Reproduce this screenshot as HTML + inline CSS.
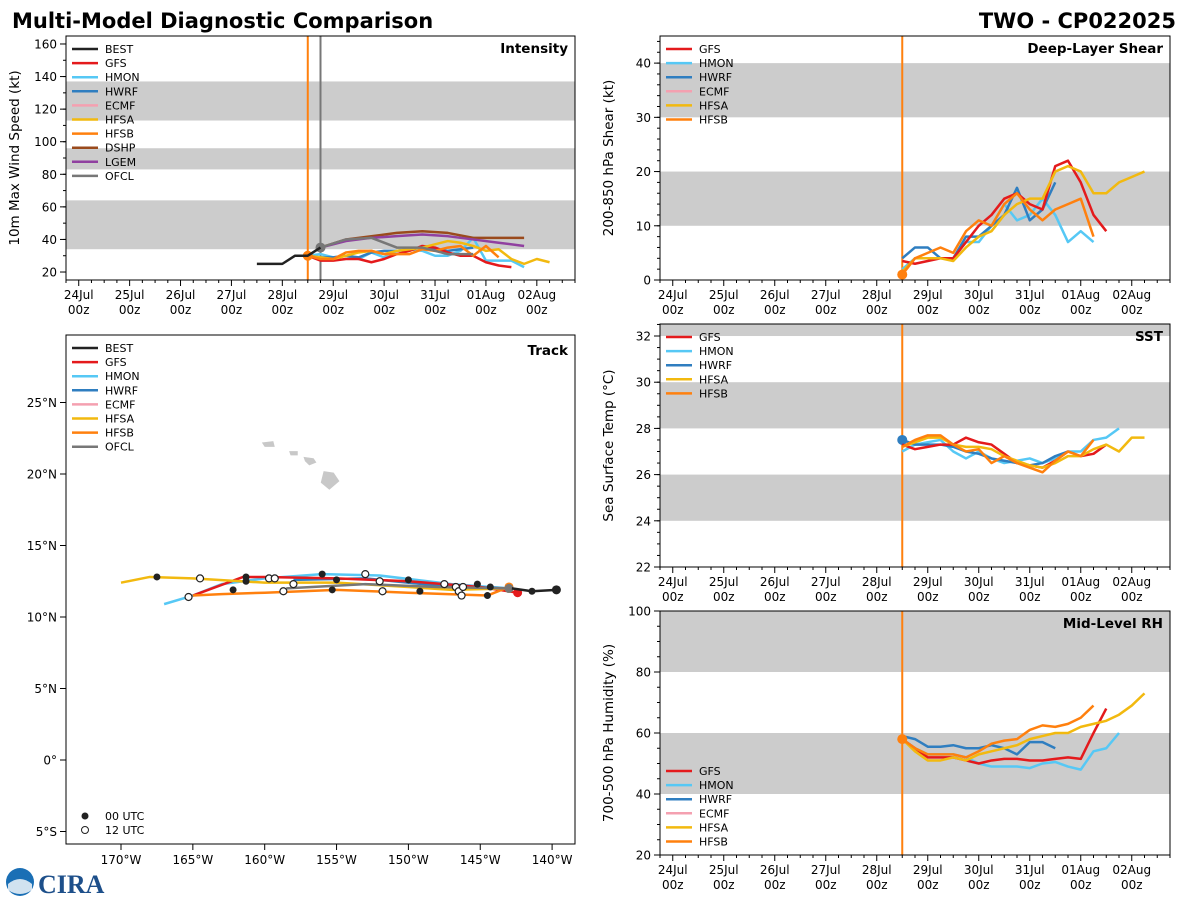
<!DOCTYPE html>
<html><head><meta charset="utf-8"><style>
html,body{margin:0;padding:0;background:#fff;}
svg{display:block;font-family:"DejaVu Sans","Liberation Sans",sans-serif;}
</style></head><body>
<svg id="fig" width="1200" height="900" viewBox="0 0 1200 900" xmlns="http://www.w3.org/2000/svg">
<text x="12" y="28" font-size="21" font-weight="bold">Multi-Model Diagnostic Comparison</text>
<text x="1176" y="28" font-size="21" font-weight="bold" text-anchor="end">TWO - CP022025</text>
<g>
<circle cx="20" cy="882" r="14" fill="#1a6fb5"/>
<path d="M8 884 Q20 874 32 884 L32 890 Q20 898 8 890Z" fill="#fff" opacity="0.8"/>
<text x="38" y="893" font-size="26" font-weight="bold" fill="#1d4f8a" font-family="Liberation Serif, serif">CIRA</text>
</g>
</svg>
<script>
const SVGNS="http://www.w3.org/2000/svg";
const fig=document.getElementById('fig');
function el(tag,attrs,parent){const e=document.createElementNS(SVGNS,tag);for(const k in attrs)e.setAttribute(k,attrs[k]);(parent||fig).appendChild(e);return e;}

const COL={BEST:'#222222',GFS:'#e41a1c',HMON:'#56c8f5',HWRF:'#2f7ec0',ECMF:'#f4a0b0',HFSA:'#f2b90f',HFSB:'#ff800e',DSHP:'#9a4a1c',LGEM:'#9040a0',OFCL:'#777777'};
const dayLabels=['24Jul','25Jul','26Jul','27Jul','28Jul','29Jul','30Jul','31Jul','01Aug','02Aug'];
const T0=108;

// ---- Intensity data (kt), 6-hourly from T0 unless noted
const bestHours=[84,90,96,102,108,114];
const bestVmax=[25,25,25,30,30,35];
const intGFS=[30,27,27,28,28,26,28,31,33,36,35,32,30,30,26,24,23,21].slice(0,17);
const intHMON=[30,31,29,30,28,32,29,33,34,33,30,30,33,41,27,27,27,23];
const intHWRF=[30,29,29,30,29,32,33,33,34,35,34,33,34,35];
const intHFSA=[30,29,28,30,32,33,31,33,34,35,37,39,38,36,33,34,28,25,28,26];
const intHFSB=[30,28,28,32,33,33,31,31,31,34,33,35,36,30,36,29];
// 12-hourly from 114h
const intDSHP=[35,40,42,44,45,44,41,41,41];
const intLGEM=[35,39,41,42,43,42,40,38,36];
const intOFCL=[35,40,41,35,35,31,31];

// ---- Shear (kt)
const shrGFS=[3.5,3,3.5,4,4,7,10,12,15,16,14,13,21,22,18,12,9];
const shrHMON=[2,4,4,4,4,7,7,10,14,11,12,15,12,7,9,7];
const shrHWRF=[4,6,6,4,4,8,8,10,12,17,11,13,18];
const shrHFSA=[1.5,4,4,4,3.5,6,8,9,12,14,15,15,20,21,20,16,16,18,19,20];
const shrHFSB=[1,4,5,6,5,9,11,10,14,16,13,11,13,14,15,8];

// ---- SST (C)
const sstGFS=[27.3,27.1,27.2,27.3,27.3,27.6,27.4,27.3,26.9,26.5,26.4,26.3,26.6,27.0,26.8,26.9,27.3];
const sstHMON=[27.0,27.3,27.4,27.5,27.0,26.7,27.0,26.7,26.5,26.6,26.7,26.5,26.7,27.0,27.0,27.5,27.6,28.0];
const sstHWRF=[27.5,27.3,27.3,27.3,27.2,27.0,26.9,26.7,26.6,26.5,26.4,26.5,26.8,27.0];
const sstHFSA=[27.2,27.4,27.6,27.6,27.3,27.2,27.2,27.1,26.8,26.6,26.4,26.3,26.5,26.8,26.8,27.1,27.3,27.0,27.6,27.6];
const sstHFSB=[27.2,27.5,27.7,27.7,27.3,27.0,27.1,26.5,26.8,26.5,26.3,26.1,26.6,27.0,26.8,27.5];

// ---- Mid-level RH (%)
const rhGFS=[58,55,52,52,52,51,50,51,51.5,51.5,51,51,51.5,52,51.5,60,68];
const rhHMON=[58,55,53,53,53,52,50,49,49,49,48.5,50,50.5,49,48,54,55,60];
const rhHWRF=[59,58,55.5,55.5,56,55,55,56,55,53,57,57,55];
const rhHFSA=[58,54,51,51,52,51,53,54,55,56,58,59,60,60,62,63,64,66,69,73];
const rhHFSB=[58,55,53,53,53,52,54,56.5,57.5,58,61,62.5,62,63,65,69];

// ---- Track (lon, lat)
const trkBEST=[[-139.7,11.9],[-141.4,11.8],[-142.8,12.0]];
const trkGFS=[[-142.4,11.7],[-145,12.1],[-150,12.5],[-155,12.7],[-160,12.8],[-161.5,12.8],[-165,11.5]];
const trkHMON=[[-143,12.0],[-147,12.3],[-152,12.9],[-156,13.0],[-160,12.7],[-163,12.3],[-165,11.5],[-167,10.9]];
const trkHWRF=[[-143,12.0],[-148,12.2],[-153,12.7],[-158,12.6]];
const trkHFSA=[[-143,12.0],[-147,11.9],[-150,12.1],[-155,12.4],[-160,12.4],[-165,12.7],[-168,12.8],[-170,12.4]];
const trkHFSB=[[-143,12.1],[-144.5,11.5],[-150,11.7],[-155,11.9],[-160,11.7],[-163,11.6],[-165,11.5]];
const trkOFCL=[[-143,12.0],[-148,12.1],[-153,12.3],[-158.5,12.0]];
const dots00=[[-167.5,12.8],[-162.2,11.9],[-161.3,12.8],[-161.3,12.5],[-156,13.0],[-155,12.6],[-155.3,11.9],[-150,12.6],[-149.2,11.8],[-145.2,12.3],[-144.5,11.5],[-144.3,12.1],[-141.4,11.8],[-139.7,11.9]];
const dots12=[[-164.5,12.7],[-165.3,11.4],[-159.7,12.7],[-159.3,12.7],[-158.7,11.8],[-158,12.3],[-153,13.0],[-152,12.5],[-151.8,11.8],[-147.5,12.3],[-146.7,12.1],[-146.5,11.8],[-146.3,11.5],[-146.2,12.1]];

function timePanel(name,P,ymin,ymax,bands,yt,ymin_step,ylabel,title,series,legend,extra){
  const g=el('g',{});
  const xs=h=>P.x+(h+6)*P.w/240;
  const ys=v=>P.y+P.h-(v-ymin)*P.h/(ymax-ymin);
  bands.forEach(b=>{const y1=ys(Math.min(b[1],ymax)),y0=ys(b[0]);
    const r=el('rect',{x:P.x,y:y1,width:P.w,height:y0-y1,fill:'#cccccc'},g);
    });
  for(let h=-6;h<=234;h+=6){const x=xs(h);const major=(h%24===0);
    el('line',{x1:x,x2:x,y1:P.y+P.h,y2:P.y+P.h+(major?6:3),stroke:'#000','stroke-width':1},g);}
  dayLabels.forEach((d,i)=>{const x=xs(i*24);
    const t=el('text',{x:x,y:P.y+P.h+19,'font-size':12,'text-anchor':'middle'},g);t.textContent=d;
    
    const t2=el('text',{x:x,y:P.y+P.h+34,'font-size':12,'text-anchor':'middle'},g);t2.textContent='00z';
    });
  for(let v=Math.ceil(ymin/ymin_step)*ymin_step;v<=ymax;v+=ymin_step){const y=ys(v);
    el('line',{x1:P.x-3,x2:P.x,y1:y,y2:y,stroke:'#000'},g);}
  yt.forEach(v=>{const y=ys(v);el('line',{x1:P.x-6,x2:P.x,y1:y,y2:y,stroke:'#000'},g);
    const t=el('text',{x:P.x-9,y:y+4.5,'font-size':12,'text-anchor':'end'},g);t.textContent=v;
    });
  const yl=el('text',{x:0,y:0,'font-size':13.5,'text-anchor':'middle',transform:`translate(${P.x-47},${P.y+P.h/2}) rotate(-90)`},g);
  yl.textContent=ylabel;
  (extra||[]).forEach(e=>{el('line',{x1:xs(e[0]),x2:xs(e[0]),y1:P.y,y2:P.y+P.h,stroke:e[1],'stroke-width':2},g);});
  series.forEach(s=>{const step=s.step||6,start=s.start===undefined?T0:s.start;
    const pts=s.v.map((v,i)=>[xs(s.hours?s.hours[i]:start+i*step),ys(v)]);
    const pl=el('polyline',{points:pts.map(p=>p.join(',')).join(' '),fill:'none',stroke:COL[s.k],'stroke-width':2.5,'stroke-linejoin':'round'},g);
    
    if(s.dot){const c=el('circle',{cx:pts[s.dot-1][0],cy:pts[s.dot-1][1],r:5,fill:COL[s.k]},g);
      }
  });
  el('rect',{x:P.x,y:P.y,width:P.w,height:P.h,fill:'none',stroke:'#000','stroke-width':1},g);
  const tt=el('text',{x:P.x+P.w-7,y:P.y+17,'font-size':13.5,'font-weight':'bold','text-anchor':'end'},g);
  tt.textContent=title;
  drawLegend(g,P.x+6,P.y+13,legend);
}
function drawLegend(g,x,y,keys){
  keys.forEach((k,i)=>{const yy=y+i*14.1;
    el('line',{x1:x,x2:x+26,y1:yy,y2:yy,stroke:COL[k],'stroke-width':2.5},g);
    const t=el('text',{x:x+33,y:yy+4,'font-size':11},g);t.textContent=k;
    });
}

timePanel('intensity',{x:66,y:36,w:509,h:244},15.1,164.9,[[34,64],[83,96],[113,137]],[20,40,60,80,100,120,140,160],10,'10m Max Wind Speed (kt)','Intensity',[
 {k:'HMON',v:intHMON},{k:'HWRF',v:intHWRF},{k:'GFS',v:intGFS},{k:'HFSA',v:intHFSA},{k:'HFSB',v:intHFSB,dot:1},
 {k:'DSHP',v:intDSHP,start:114,step:12},{k:'LGEM',v:intLGEM,start:114,step:12},{k:'OFCL',v:intOFCL,start:114,step:12,dot:1},
 {k:'BEST',v:bestVmax,hours:bestHours}],
 ['BEST','GFS','HMON','HWRF','ECMF','HFSA','HFSB','DSHP','LGEM','OFCL'],[[108,'#ff800e'],[114,'#777777']]);

timePanel('shear',{x:660,y:36,w:510,h:244},0,45,[[10,20],[30,40]],[0,10,20,30,40],2,'200-850 hPa Shear (kt)','Deep-Layer Shear',[
 {k:'HMON',v:shrHMON},{k:'HWRF',v:shrHWRF},{k:'GFS',v:shrGFS},{k:'HFSA',v:shrHFSA},{k:'HFSB',v:shrHFSB,dot:1}],
 ['GFS','HMON','HWRF','ECMF','HFSA','HFSB'],[[108,'#ff800e']]);

timePanel('sst',{x:660,y:324,w:510,h:243},22,32.52,[[24,26],[28,30],[32,33]],[22,24,26,28,30,32],0.5,'Sea Surface Temp (°C)','SST',[
 {k:'HMON',v:sstHMON},{k:'HWRF',v:sstHWRF,dot:1},{k:'GFS',v:sstGFS},{k:'HFSA',v:sstHFSA},{k:'HFSB',v:sstHFSB}],
 ['GFS','HMON','HWRF','HFSA','HFSB'],[[108,'#ff800e']]);

timePanel('rh',{x:660,y:611,w:510,h:244},20,100,[[40,60],[80,100]],[20,40,60,80,100],5,'700-500 hPa Humidity (%)','Mid-Level RH',[
 {k:'HMON',v:rhHMON},{k:'HWRF',v:rhHWRF},{k:'GFS',v:rhGFS},{k:'HFSA',v:rhHFSA},{k:'HFSB',v:rhHFSB,dot:1}],
 [],[[108,'#ff800e']]);
(function(){const g=el('g',{});drawLegend(g,666,771,['GFS','HMON','HWRF','ECMF','HFSA','HFSB']);})();

(function(){
 const P={x:66,y:335,w:509,h:509};
 const g=el('g',{});
 const xl=lon=>121+(lon+170)*14.37;
 const yl=lat=>760-lat*14.3;
 const isl=[[[-160.2,22.2],[-159.4,22.3],[-159.3,21.9],[-160,21.9]],[[-158.3,21.6],[-157.7,21.6],[-157.7,21.3],[-158.2,21.3]],
  [[-157.3,21.2],[-156.6,21.1],[-156.4,20.8],[-156.9,20.6],[-157.2,20.9]],
  [[-155.9,20.2],[-155.2,20.1],[-154.8,19.5],[-155.5,18.9],[-156.1,19.4]]];
 isl.forEach(s=>{const p=el('polygon',{points:s.map(q=>xl(q[0])+','+yl(q[1])).join(' '),fill:'#c8c8c8'},g);
   });
 const tr=[['HMON',trkHMON],['HWRF',trkHWRF],['GFS',trkGFS],['HFSA',trkHFSA],['HFSB',trkHFSB],['OFCL',trkOFCL],['BEST',trkBEST]];
 tr.forEach(([k,d])=>{const pl=el('polyline',{points:d.map(q=>xl(q[0])+','+yl(q[1])).join(' '),fill:'none',stroke:COL[k],'stroke-width':2.5,'stroke-linejoin':'round'},g);
   
   const c=el('circle',{cx:xl(d[0][0]),cy:yl(d[0][1]),r:4.5,fill:COL[k]},g);
   });
 dots00.forEach(q=>{const c=el('circle',{cx:xl(q[0]),cy:yl(q[1]),r:3.5,fill:'#222'},g);
   });
 dots12.forEach(q=>{const c=el('circle',{cx:xl(q[0]),cy:yl(q[1]),r:3.5,fill:'#fff',stroke:'#222','stroke-width':1.2},g);
   });
 const lonT=[-170,-165,-160,-155,-150,-145,-140];
 lonT.forEach(l=>{const x=xl(l);el('line',{x1:x,x2:x,y1:P.y+P.h,y2:P.y+P.h+6,stroke:'#000'},g);
   const t=el('text',{x:x,y:P.y+P.h+20,'font-size':12,'text-anchor':'middle'},g);t.textContent=(-l)+'°W';
   });
 const latT=[-5,0,5,10,15,20,25];
 latT.forEach(l=>{const y=yl(l);el('line',{x1:P.x-6,x2:P.x,y1:y,y2:y,stroke:'#000'},g);
   const t=el('text',{x:P.x-9,y:y+4.5,'font-size':12,'text-anchor':'end'},g);
   t.textContent=l<0?(-l)+'°S':(l===0?'0°':l+'°N');
   });
 el('rect',{x:P.x,y:P.y,width:P.w,height:P.h,fill:'none',stroke:'#000'},g);
 const tt=el('text',{x:P.x+P.w-7,y:P.y+20,'font-size':13.5,'font-weight':'bold','text-anchor':'end'},g);tt.textContent='Track';
 
 drawLegend(g,72,348,['BEST','GFS','HMON','HWRF','ECMF','HFSA','HFSB','OFCL']);
 el('circle',{cx:85,cy:816,r:3.5,fill:'#222'},g);
 const a=el('text',{x:105,y:820,'font-size':11},g);a.textContent='00 UTC';
 el('circle',{cx:85,cy:830,r:3.5,fill:'#fff',stroke:'#222'},g);
 const b=el('text',{x:105,y:834,'font-size':11},g);b.textContent='12 UTC';
})();
</script>
</body></html>
